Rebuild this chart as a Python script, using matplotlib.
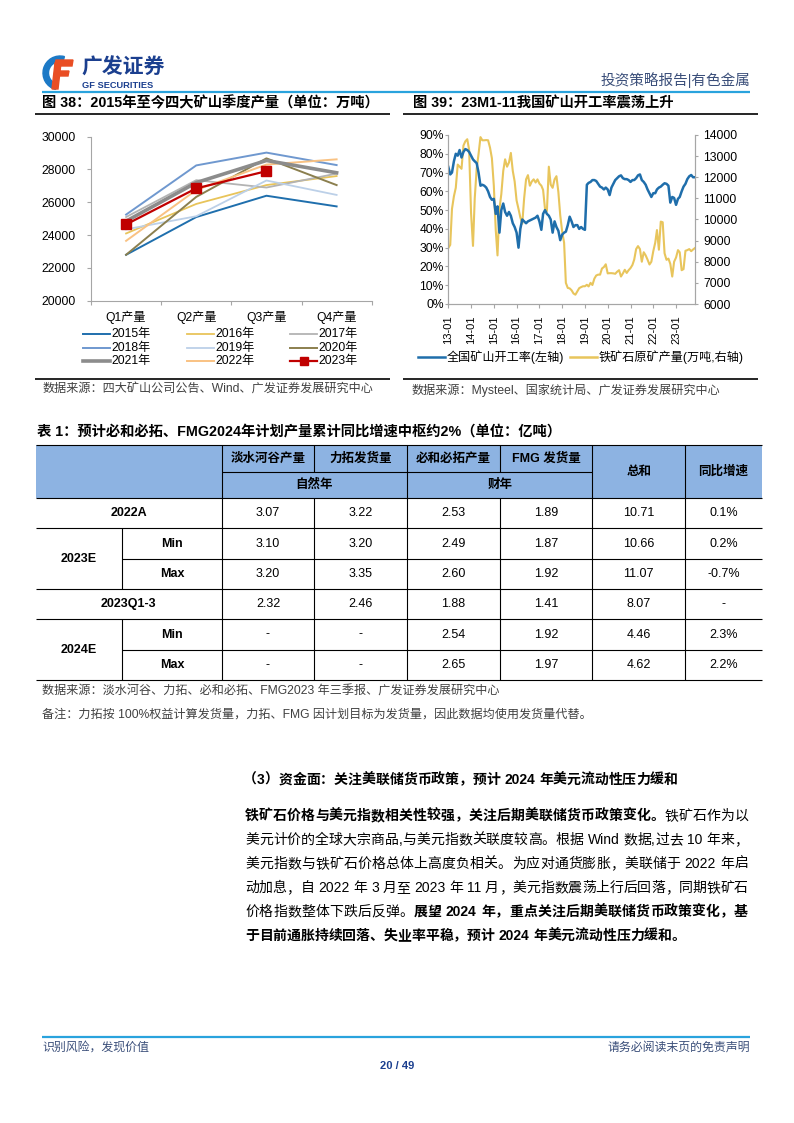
import re
import matplotlib
matplotlib.use('Agg')
import matplotlib.pyplot as plt
import matplotlib.patches as mpatches
import pandas as pd

plt.rcParams['font.family'] = ['Liberation Sans', 'Noto Sans CJK SC']
plt.rcParams['axes.unicode_minus'] = False

# ---------------- data ----------------
quarters = ['Q1产量', 'Q2产量', 'Q3产量', 'Q4产量']
years = ['2015年', '2016年', '2017年', '2018年', '2019年', '2020年', '2021年', '2022年', '2023年']
y2015 = [22800, 25100, 26400, 25750]
y2016 = [24100, 25900, 27050, 27600]
y2017 = [25100, 27350, 26900, 27750]
y2018 = [25250, 28250, 29030, 28270]
y2019 = [24350, 25150, 27330, 26450]
y2020 = [22800, 26330, 28680, 27050]
y2021 = [24850, 27200, 28550, 27800]
y2022 = [23650, 26750, 28300, 28620]
y2023 = [24650, 26850, 27900]

# 全国矿山开工率 (%), monthly 2013-01 .. 2023-11
rate = [73, 69, 70, 76, 80, 79, 82, 78, 81, 82.5, 82, 81,
        79, 77, 76, 75, 70, 63, 63.5, 63, 62, 60, 57, 55.5,
        56, 48, 52, 38, 50, 53.5, 49, 47, 49, 47, 43, 41,
        38, 30, 40, 45, 44, 43, 44, 44.5, 45, 45.5, 46, 47,
        44, 39.5, 48, 50, 48, 47, 45, 38, 44, 41, 39, 34,
        37, 38, 38.5, 42, 46.5, 44, 41, 42, 42, 40, 41, 40,
        39.5, 63.5, 64.5, 65, 66, 66, 65.5, 64, 62.5, 62, 61, 62,
        61, 58, 62, 64, 66, 67, 68, 68.5, 67, 66.5, 66.5, 66,
        65, 66, 66, 67, 68.5, 69, 66, 65, 63.5, 61, 59, 57,
        59, 59, 61, 62, 62.5, 63.5, 64.3, 64, 63, 54, 57, 56.5,
        52.8, 56, 57, 60, 62.5, 64, 66.5, 68, 68.7, 67.5, 67.5]
# 铁矿石原矿产量 (万吨)
ore = [8650, 8800, 10500, 11100, 11500, 12600, 12500, 12400, 13500, 13700, 13800, 13300,
       10300, 8750, 11000, 12400, 13100, 13900, 13750, 13750, 13760, 13750, 13400, 12900,
       11600, 9500, 8300, 10500, 11200, 12300, 12850, 12500, 12700, 13150, 12300, 11800,
       10900, 10500, 10100, 9800, 11000, 11900, 12100, 11600, 11800, 11900, 11750, 11900,
       11700, 11600, 11400, 10500, 10400, 12500, 11650, 11500, 11900, 12050, 11300, 10200,
       9430, 8900, 7000, 6760, 6740, 6650, 6500, 6440, 6600, 6750, 6800, 6840,
       6840, 6910, 6830, 7000, 6900, 7200, 7350, 7390, 7390, 7680, 7750, 7880,
       7450, 7460, 7460, 7450, 7430, 7530, 7600, 7300, 7450, 7620, 7470, 7600,
       7700, 7850, 8100, 8600, 8740, 8600, 8000, 8450, 8300, 8100, 7870, 8000,
       8500, 8900, 9500, 8570, 9900, 9870, 8400, 8090, 8150, 7900, 7300, 8000,
       8200, 8550, 8450, 7600, 7650, 8520, 8550, 8600, 8500, 8580, 8650]

# table
tbl_rows = ['2022A', 'Min', 'Max', '2023Q1-3', 'Min', 'Max']
vale = ['3.07', '3.10', '3.20', '2.32', '-', '-']
rio = ['3.22', '3.20', '3.35', '2.46', '-', '-']
bhp = ['2.53', '2.49', '2.60', '1.88', '2.54', '2.65']
fmg = ['1.89', '1.87', '1.92', '1.41', '1.92', '1.97']
total = ['10.71', '10.66', '11.07', '8.07', '4.46', '4.62']
yoy = ['0.1%', '0.2%', '-0.7%', '-', '2.3%', '2.2%']

# ---------------- page ----------------
W, H = 794, 1123
fig = plt.figure(figsize=(W / 100, H / 100), dpi=100)
page = fig.add_axes([0, 0, 1, 1])
page.set_xlim(0, W)
page.set_ylim(H, 0)
page.axis('off')
renderer = fig.canvas.get_renderer()


def box(x0, y0, x1, y1):
    return [x0 / W, 1 - y1 / H, (x1 - x0) / W, (y1 - y0) / H]


def hline(y, x0, x1, c='black', lw=0.8):
    page.plot([x0, x1], [y, y], color=c, lw=lw, solid_capstyle='butt')


def vline(x, y0, y1, c='black', lw=0.8):
    page.plot([x, x], [y0, y1], color=c, lw=lw, solid_capstyle='butt')


navy = '#1b3f8f'
hdr_col = '#3b4f7a'
lightblue = '#29a3dd'
src_col = '#404040'

# header / logo
page.add_patch(mpatches.Wedge((60, 73), 17, 105, 285, width=5.5, color='#1c79c6'))
page.add_patch(mpatches.Polygon([(55, 63), (61, 63), (58, 89), (52, 89)], color='#e94e24'))
page.add_patch(mpatches.Polygon([(56, 60), (73, 60), (72, 66), (55, 66)], color='#e94e24'))
page.add_patch(mpatches.Polygon([(55, 71), (69, 71), (68, 76), (54, 76)], color='#e94e24'))
page.text(81, 68, '广发证券', fontsize=15, weight='bold', color=navy, va='center')
page.text(82, 86, 'GF SECURITIES', fontsize=6.7, weight='bold', color=navy, va='center')
page.text(750, 80, '投资策略报告|有色金属', fontsize=10.5, color=hdr_col, ha='right', va='center')
hline(92, 42, 750, c=lightblue, lw=1.6)

# chart titles
page.text(42, 103.5, '图 38：2015年至今四大矿山季度产量（单位：万吨）', fontsize=10.3, weight='bold', va='center')
hline(113.5, 35, 390, lw=1.2)
page.text(413, 103.5, '图 39：23M1-11我国矿山开工率震荡上升', fontsize=10.3, weight='bold', va='center')
hline(113.5, 403, 758, lw=1.2)

# ---------------- chart 38 ----------------
gray_ax = '#a6a6a6'
ax1 = fig.add_axes(box(91, 136.7, 371.7, 300.7))
series = [y2015, y2016, y2017, y2018, y2019, y2020, y2021, y2022, y2023]
colors = ['#1f6fad', '#e8c45a', '#b3b3b3', '#6f98cf', '#bcd0e8', '#8b7f4e', '#8c8c8c', '#f9c283', '#c00000']
widths = [1.4, 1.3, 1.3, 1.4, 1.3, 1.4, 2.6, 1.4, 1.6]
for i, (vals, c, lw) in enumerate(zip(series, colors, widths)):
    if i == 8:
        ax1.plot(range(len(vals)), vals, color=c, lw=lw, marker='s', ms=7, zorder=10)
    else:
        ax1.plot(range(len(vals)), vals, color=c, lw=lw, zorder=3 + (i == 6))
ax1.set_xlim(-0.5, 3.5)
ax1.set_ylim(20000, 30000)
ax1.set_yticks(range(20000, 30001, 2000))
ax1.set_xticks([-0.5, 0.5, 1.5, 2.5, 3.5])
ax1.set_xticklabels([])
ax1.set_xticks(range(4), labels=quarters, minor=True)
ax1.tick_params(axis='x', which='major', length=3, color=gray_ax, direction='out')
ax1.tick_params(axis='x', which='minor', length=0, pad=7, labelsize=8.7)
ax1.tick_params(axis='y', length=3, color=gray_ax, pad=8, labelsize=8.7)
for s in ['top', 'right']:
    ax1.spines[s].set_visible(False)
for s in ['left', 'bottom']:
    ax1.spines[s].set_color(gray_ax)

# legend 38
leg_rows = [334.3, 347.7, 361]
leg_cols = [83.3, 186.7, 290]
for i, (name, c, lw) in enumerate(zip(years, colors, widths)):
    lx, ly = leg_cols[i % 3], leg_rows[i // 3]
    page.plot([lx, lx + 27], [ly, ly], color=c, lw=lw)
    if i == 8:
        page.plot([lx + 13.5], [ly], color=c, marker='s', ms=6)
    page.text(lx + 28.5, ly, name, fontsize=8.7, va='center')

hline(378.7, 35, 390, lw=1.2)
page.text(43, 390, '数据来源：四大矿山公司公告、Wind、广发证券发展研究中心', fontsize=8.7, color=src_col, va='center')

# ---------------- chart 39 ----------------
dates = pd.date_range('2013-01-01', periods=len(rate), freq='MS')
ax2 = fig.add_axes(box(448.3, 135, 695, 304))
ax3 = ax2.twinx()
ax2.plot(dates, rate, color='#1f6eab', lw=1.8)
ax3.plot(dates, ore, color='#e8c55c', lw=1.5)
ax2.set_zorder(ax3.get_zorder() + 1)
ax2.patch.set_visible(False)
ax2.set_xlim(dates[0], dates[-1])
ax2.set_ylim(0, 90)
ax2.set_yticks(range(0, 91, 10))
ax2.set_yticklabels([f'{v}%' for v in range(0, 91, 10)])
ax3.set_ylim(6000, 14000)
ax3.set_yticks(range(6000, 14001, 1000))
yt = pd.date_range('2013-01-01', '2023-01-01', freq='YS')
ax2.set_xticks(yt)
ax2.set_xticklabels([d.strftime('%y-%m') for d in yt], rotation=90)
ax2.tick_params(axis='x', length=3, color=gray_ax, pad=5.5, labelsize=8)
ax2.tick_params(axis='y', length=2.4, color=gray_ax, pad=1, labelsize=8.7)
ax3.tick_params(axis='y', length=2.4, color=gray_ax, pad=3.5, labelsize=8.7)
for a in (ax2, ax3):
    a.spines['top'].set_visible(False)
    for s in ['left', 'right', 'bottom']:
        a.spines[s].set_color(gray_ax)

page.plot([418.3, 445], [356.7, 356.7], color='#1f6eab', lw=1.8)
page.text(446.7, 356.7, '全国矿山开工率(左轴)', fontsize=8.7, va='center')
page.plot([570, 596.7], [356.7, 356.7], color='#e8c55c', lw=1.8)
page.text(599, 356.7, '铁矿石原矿产量(万吨,右轴)', fontsize=8.7, va='center')
hline(378.7, 403, 758, lw=1.2)
page.text(412, 390, '数据来源：Mysteel、国家统计局、广发证券发展研究中心', fontsize=8.7, color=src_col, va='center')

# ---------------- table ----------------
page.text(37, 432, '表 1：预计必和必拓、FMG2024年计划产量累计同比增速中枢约2%（单位：亿吨）',
          fontsize=10.3, weight='bold', va='center')
tx = [35.7, 122.3, 221.7, 314.3, 407, 499.7, 592.4, 685, 762]
ty = [445, 471.7, 498.3, 528.3, 559, 589, 619, 650, 680]
page.add_patch(mpatches.Rectangle((tx[0], ty[0]), tx[-1] - tx[0], ty[2] - ty[0], fc='#8db3e2', ec='none'))
for y in [ty[0], ty[2], ty[3], ty[5], ty[6], ty[8]]:
    hline(y, tx[0], tx[-1])
hline(ty[1], tx[2], tx[6])
hline(ty[4], tx[1], tx[-1])
hline(ty[7], tx[1], tx[-1])
for x in [tx[2], tx[4], tx[6], tx[7]]:
    vline(x, ty[0], ty[-1])
for x in [tx[3], tx[5]]:
    vline(x, ty[0], ty[1])
    vline(x, ty[2], ty[-1])
vline(tx[1], ty[3], ty[5])
vline(tx[1], ty[6], ty[8])

hy1, hy2, hym = (ty[0] + ty[1]) / 2, (ty[1] + ty[2]) / 2, (ty[0] + ty[2]) / 2
heads = ['淡水河谷产量', '力拓发货量', '必和必拓产量', 'FMG 发货量']
hfs = 9
for j, h in enumerate(heads):
    page.text((tx[2 + j] + tx[3 + j]) / 2, hy1, h, fontsize=hfs, weight='bold', ha='center', va='center')
page.text((tx[2] + tx[4]) / 2, hy2, '自然年', fontsize=hfs, weight='bold', ha='center', va='center')
page.text((tx[4] + tx[6]) / 2, hy2, '财年', fontsize=hfs, weight='bold', ha='center', va='center')
page.text((tx[6] + tx[7]) / 2, hym, '总和', fontsize=hfs, weight='bold', ha='center', va='center')
page.text((tx[7] + tx[8]) / 2, hym, '同比增速', fontsize=hfs, weight='bold', ha='center', va='center')

row_y = [(ty[k] + ty[k + 1]) / 2 for k in range(2, 8)]
for k, lab in enumerate(tbl_rows):
    if lab in ('Min', 'Max'):
        page.text((tx[1] + tx[2]) / 2, row_y[k], lab, fontsize=9, weight='bold', ha='center', va='center')
    else:
        page.text((tx[0] + tx[2]) / 2, row_y[k], lab, fontsize=9, weight='bold', ha='center', va='center')
page.text((tx[0] + tx[1]) / 2, ty[4], '2023E', fontsize=9, weight='bold', ha='center', va='center')
page.text((tx[0] + tx[1]) / 2, ty[7], '2024E', fontsize=9, weight='bold', ha='center', va='center')
for j, col in enumerate([vale, rio, bhp, fmg, total, yoy]):
    cx = (tx[2 + j] + tx[3 + j]) / 2
    for k, v in enumerate(col):
        page.text(cx, row_y[k], v, fontsize=9, ha='center', va='center')

page.text(42, 692, '数据来源：淡水河谷、力拓、必和必拓、FMG2023 年三季报、广发证券发展研究中心',
          fontsize=8.7, color=src_col, va='center')
page.text(42, 714.5, '备注：力拓按 100%权益计算发货量，力拓、FMG 因计划目标为发货量，因此数据均使用发货量代替。',
          fontsize=8.7, color=src_col, va='center')


# ---------------- paragraph ----------------
def wid(s, b, size):
    if not s:
        return 0.0
    t = page.text(0, 0, s, fontsize=size, weight='bold' if b else 'normal')
    w = t.get_window_extent(renderer).width
    t.remove()
    return w


def text_line(yc, segs, x0, x1=None, size=10):
    toks = []
    for s, b in segs:
        for t in re.findall(r'[A-Za-z0-9%.]+| |.', s):
            toks.append((t, b))
    info = []
    for t, b in toks:
        ref2 = wid('中中', b, size)
        adv = wid('中' + t + '中', b, size) - ref2
        a0 = ref2 - wid('中', b, size)
        lsb = wid('中' + t, b, size) - wid(t, b, size) - a0 if t != ' ' else 0
        info.append((t, b, adv, lsb))
    gap = 0.0
    if x1 is not None and len(info) > 1:
        gap = (x1 - x0 - sum(i[2] for i in info)) / (len(info) - 1)
    x = x0
    for t, b, adv, lsb in info:
        if t != ' ':
            page.text(x + lsb, yc + 5, t, fontsize=size, weight='bold' if b else 'normal',
                      ha='left', va='baseline')
        x += adv + gap


text_line(779, [('（3）资金面：关注美联储货币政策，预计 2024 年美元流动性压力缓和', True)], 243)
para = [
    [('铁矿石价格与美元指数相关性较强，关注后期美联储货币政策变化。', True), ('铁矿石作为以', False)],
    [('美元计价的全球大宗商品,与美元指数关联度较高。根据 Wind 数据,过去 10 年来，', False)],
    [('美元指数与铁矿石价格总体上高度负相关。为应对通货膨胀，美联储于 2022 年启', False)],
    [('动加息，自 2022 年 3 月至 2023 年 11 月，美元指数震荡上行后回落，同期铁矿石', False)],
    [('价格指数整体下跌后反弹。', False), ('展望 2024 年，重点关注后期美联储货币政策变化，基', True)],
    [('于目前通胀持续回落、失业率平稳，预计 2024 年美元流动性压力缓和。', True)],
]
for i, segs in enumerate(para):
    text_line(815 + 24 * i, segs, 245, 748 if i < len(para) - 1 else None)

# ---------------- footer ----------------
hline(1037, 42, 750, c=lightblue, lw=1.6)
page.text(42, 1048, '识别风险，发现价值', fontsize=8.6, color=hdr_col, va='center')
page.text(750, 1048, '请务必阅读末页的免责声明', fontsize=8.6, color=hdr_col, ha='right', va='center')
page.text(397, 1066, '20 / 49', fontsize=8, weight='bold', color=navy, ha='center', va='center')

fig.savefig('out.png', dpi=100)
